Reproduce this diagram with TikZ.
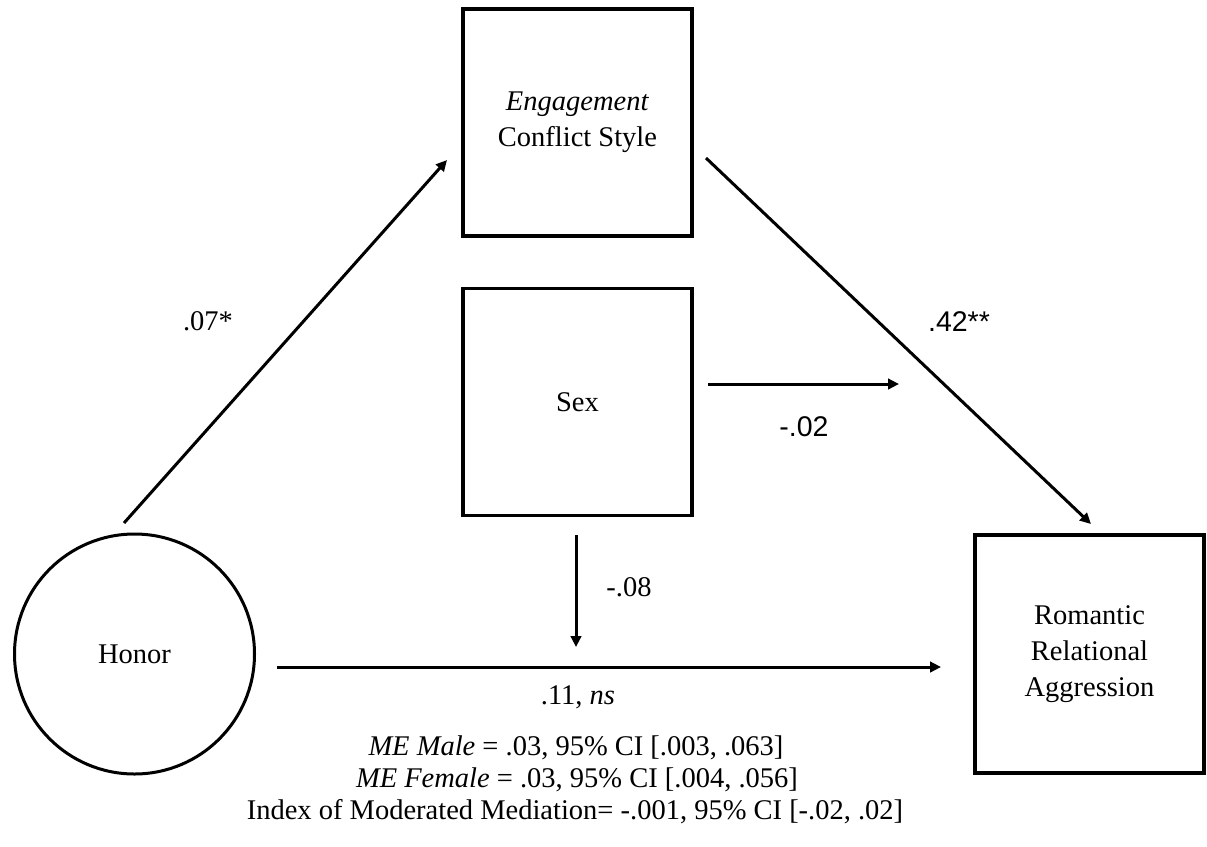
\documentclass[tikz,border=0pt]{standalone}
\usepackage{fontspec}
\setmainfont{Liberation Serif}
\newfontfamily\labsans{Liberation Sans}
\usetikzlibrary{arrows.meta}
\begin{document}
\begin{tikzpicture}[x=1pt,y=-1pt,
  every node/.style={font=\fontsize{28.5}{36}\selectfont, inner sep=0pt},
  box/.style={draw, line width=3.5pt, minimum width=229pt, minimum height=227pt, align=center},
  latent/.style={draw, circle, line width=3pt, minimum size=240pt},
  conn/.style={line width=3pt, -{Triangle[length=11pt,width=10.5pt]}},
  sanslab/.style={font=\fontsize{28.5}{36}\selectfont\labsans},
  seriflab/.style={font=\fontsize{28.5}{36}\selectfont}]
\useasboundingbox (0,0) rectangle (1207,846);
% nodes
\node[box] (eng) at (577.5,122.5) {\textit{Engagement}\\Conflict Style};
\node[box] (sex) at (577.5,402) {Sex};
\node[latent] (honor) at (134.5,654) {Honor};
\node[box, minimum height=238pt] (rra) at (1089.5,654) {Romantic\\Relational\\Aggression};
% connector ends
\coordinate (h1) at (124,523);
\coordinate (e1) at (447,160);
\coordinate (e2) at (706,158);
\coordinate (r1) at (1091,524);
\coordinate (s1) at (708,384);
\coordinate (s1e) at (899,384);
\coordinate (s2) at (576,535);
\coordinate (s2e) at (576,647);
\coordinate (h2) at (277,667);
\coordinate (r2) at (941,667);
% connectors
\draw[conn] (h1) -- (e1);
\draw[conn] (e2) -- (r1);
\draw[conn] (s1) -- (s1e);
\draw[conn] (s2) -- (s2e);
\draw[conn] (h2) -- (r2);
% labels
\node[seriflab] (la) at (208,321) {.07*};
\node[sanslab] (lb) at (959,322) {.42**};
\node[sanslab] (lc) at (804,427) {-.02};
\node[seriflab] (ld) at (629,587) {-.08};
\node[seriflab] (le) at (578,697) {.11, \textit{ns}};
\node[seriflab] (n1) at (576,748) {\textit{ME Male} = .03, 95\% CI [.003, .063]};
\node[seriflab] (n2) at (577,780) {\textit{ME Female} = .03, 95\% CI [.004, .056]};
\node[seriflab] (n3) at (575,812) {Index of Moderated Mediation= -.001, 95\% CI [-.02, .02]};
\end{tikzpicture}
\end{document}
